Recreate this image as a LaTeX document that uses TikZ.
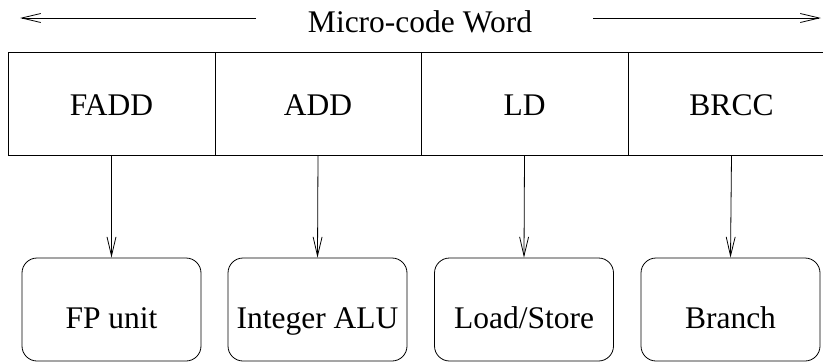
\documentclass[tikz,border=0pt]{standalone}
\usepackage{fontspec}
\setmainfont{Liberation Serif}
\usetikzlibrary{arrows.meta}
\begin{document}
\begin{tikzpicture}[x=1pt,y=-1pt,line width=0.8pt,
  lbl/.style={font=\fontsize{31.5}{36}\selectfont,inner sep=0pt,anchor=base},
  cell/.style={draw,rectangle,minimum height=103pt,inner sep=0pt},
  unit/.style={draw,rectangle,rounded corners=15pt,minimum width=179pt,minimum height=103pt,inner sep=0pt},
  barb/.style={-{Straight Barb[length=19pt,width=9pt,line width=0.8pt]}}]
\useasboundingbox (0,0) rectangle (823,362);
% title
\node[lbl] (title) at (420,32) {Micro-code Word};
\coordinate (lt) at (20,18);
\coordinate (ls) at (256,18);
\coordinate (rs) at (593,18);
\coordinate (rt) at (821,18);
\draw[barb] (ls) -- (lt);
\draw[barb] (rs) -- (rt);
% cells
\node[cell,minimum width=207pt] (c1) at (111.5,104) {};
\node[cell,minimum width=206pt] (c2) at (318,104) {};
\node[cell,minimum width=207pt] (c3) at (524.5,104) {};
\node[cell,minimum width=207pt] (c4) at (731.5,104) {};
\node[lbl] (t1) at (111.5,115) {FADD};
\node[lbl] (t2) at (318,115) {ADD};
\node[lbl] (t3) at (524.5,115) {LD};
\node[lbl] (t4) at (731.5,115) {BRCC};
% units
\node[unit] (u1) at (111.5,309.5) {};
\node[unit] (u2) at (317.5,309.5) {};
\node[unit] (u3) at (524,309.5) {};
\node[unit] (u4) at (730.5,309.5) {};
\node[lbl] at (111.5,328) {FP unit};
\node[lbl] at (317.5,328) {Integer ALU};
\node[lbl] at (524,328) {Load/Store};
\node[lbl] at (730.5,328) {Branch};
% connectors
\draw[barb] (c1.south) -- (u1.north);
\draw[barb] (c2.south) -- (u2.north);
\draw[barb] (c3.south) -- (u3.north);
\draw[barb] (c4.south) -- (u4.north);
\end{tikzpicture}
\end{document}
